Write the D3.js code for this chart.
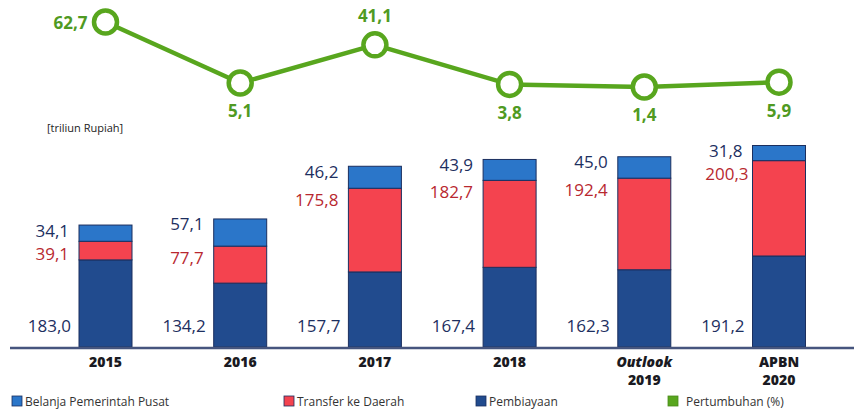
<!DOCTYPE html>
<html>
<head>
<meta charset="utf-8">
<script src="https://cdn.jsdelivr.net/npm/d3@7"></script>
<style>
  html, body { margin: 0; padding: 0; background: #ffffff; }
  svg { display: block; }
</style>
</head>
<body>
<svg id="chart" width="854" height="409"></svg>
<script>
// ---- data ----
const categories = ["2015", "2016", "2017", "2018", "Outlook 2019", "APBN 2020"];
const categoryLines = [["2015"], ["2016"], ["2017"], ["2018"], ["Outlook", "2019"], ["APBN", "2020"]];
const pembiayaan = [183.0, 134.2, 157.7, 167.4, 162.3, 191.2];
const transferDaerah = [39.1, 77.7, 175.8, 182.7, 192.4, 200.3];
const belanjaPusat = [34.1, 57.1, 46.2, 43.9, 45.0, 31.8];
const pertumbuhan = [62.7, 5.1, 41.1, 3.8, 1.4, 5.9];
const seriesNames = ["Belanja Pemerintah Pusat", "Transfer ke Daerah", "Pembiayaan", "Pertumbuhan (%)"];
const unitLabel = "[triliun Rupiah]";

const fmt = v => v.toFixed(1).replace(".", ",");

const colors = {
  pembiayaan: "#214b8e",
  transfer: "#f4434f",
  belanja: "#2b76c9",
  green: "#58a61e",
  greenText: "#4f9a22",
  navyText: "#1d2f5f",
  redText: "#b8282f"
};

const svg = d3.select("#chart");
const font = "'Open Sans', 'DejaVu Sans', sans-serif";

const x = d3.scalePoint().domain(categories).range([105.5, 779]);
const barW = 53;
const y = d3.scaleLinear().domain([0, 450]).range([347, 347 - 0.476 * 450]);
const yLine = d3.scaleLinear().domain([0, 62.7]).range([88.4, 22]);

const rows = categories.map((c, i) => ({
  cat: c, i,
  p: pembiayaan[i], t: transferDaerah[i], b: belanjaPusat[i]
}));

// bars
const stack = d3.stack().keys(["p", "t", "b"])(rows);
const fills = { p: colors.pembiayaan, t: colors.transfer, b: colors.belanja };
stack.forEach(layer => {
  svg.append("g").selectAll("rect").data(layer).join("rect")
    .attr("x", d => x(d.data.cat) - barW / 2)
    .attr("y", d => y(d[1]))
    .attr("width", barW)
    .attr("height", d => y(d[0]) - y(d[1]))
    .attr("fill", fills[layer.key])
    .attr("stroke", "#1b2f5f")
    .attr("stroke-width", 1);
});

// axis line
svg.append("line").attr("x1", 10).attr("x2", 854).attr("y1", y(0) + 1).attr("y2", y(0) + 1)
  .attr("stroke", "#46557e").attr("stroke-width", 2.5);

// bar value labels
const lab = svg.append("g").attr("font-family", font).attr("font-size", 17).attr("font-weight", 500)
  .attr("text-anchor", "end").attr("dominant-baseline", "central");
rows.forEach(r => {
  const lx = x(r.cat) - barW / 2 - 10;
  const top = y(r.p + r.t + r.b);
  const redTop = y(r.p + r.t);
  const topY = top + 5;
  const redY = Math.max(redTop + 11, topY + 23);
  lab.append("text").attr("x", lx).attr("y", topY).attr("fill", colors.navyText).text(fmt(r.b));
  lab.append("text").attr("x", lx + (r.i === 5 ? 6 : 0)).attr("y", redY).attr("fill", colors.redText).text(fmt(r.t));
  lab.append("text").attr("x", lx + 2).attr("y", 325).attr("fill", colors.navyText).text(fmt(r.p));
});

// x labels
const xl = svg.append("g").attr("font-family", font).attr("font-size", 14).attr("font-weight", 800)
  .attr("text-anchor", "middle").attr("fill", "#1a1a22");
categoryLines.forEach((lines, i) => {
  lines.forEach((t, j) => {
    xl.append("text").attr("x", x(categories[i])).attr("y", 367 + j * 17.5)
      .attr("font-style", t === "Outlook" ? "italic" : "normal").text(t);
  });
});

// unit label
svg.append("text").attr("x", 47).attr("y", 132).attr("font-family", font).attr("font-size", 11)
  .attr("fill", "#222").text(unitLabel);

// growth line
const line = d3.line().x((d, i) => x(categories[i])).y(d => yLine(d));
svg.append("path").datum(pertumbuhan).attr("d", line).attr("fill", "none")
  .attr("stroke", colors.green).attr("stroke-width", 4.5).attr("stroke-linejoin", "round");
svg.append("g").selectAll("circle").data(pertumbuhan).join("circle")
  .attr("cx", (d, i) => x(categories[i])).attr("cy", d => yLine(d)).attr("r", 11.5)
  .attr("fill", "#fff").attr("stroke", colors.green).attr("stroke-width", 4.5);

const gl = svg.append("g").attr("font-family", font).attr("font-size", 17).attr("font-weight", 700)
  .attr("fill", colors.greenText).attr("dominant-baseline", "central");
pertumbuhan.forEach((v, i) => {
  const cx = x(categories[i]), cy = yLine(v);
  const t = gl.append("text").text(fmt(v));
  if (i === 0) t.attr("x", cx - 18).attr("y", cy).attr("text-anchor", "end");
  else if (i === 2) t.attr("x", cx).attr("y", cy - 29).attr("text-anchor", "middle");
  else t.attr("x", cx).attr("y", cy + 28).attr("text-anchor", "middle");
});

// legend
const legendX = [12, 284, 476, 668];
const legendColors = [colors.belanja, colors.transfer, colors.pembiayaan, colors.green];
const lg = svg.append("g").attr("font-family", font).attr("font-size", 12).attr("fill", "#333");
seriesNames.forEach((n, i) => {
  lg.append("rect").attr("x", legendX[i]).attr("y", 396).attr("width", 10).attr("height", 10)
    .attr("fill", legendColors[i]).attr("stroke", i === 3 ? "#4a8a1a" : "#1b2f5f").attr("stroke-width", 0.8);
  lg.append("text").attr("x", legendX[i] + (i === 3 ? 18 : 13)).attr("y", 401)
    .attr("dominant-baseline", "central").text(n);
});
</script>
</body>
</html>
